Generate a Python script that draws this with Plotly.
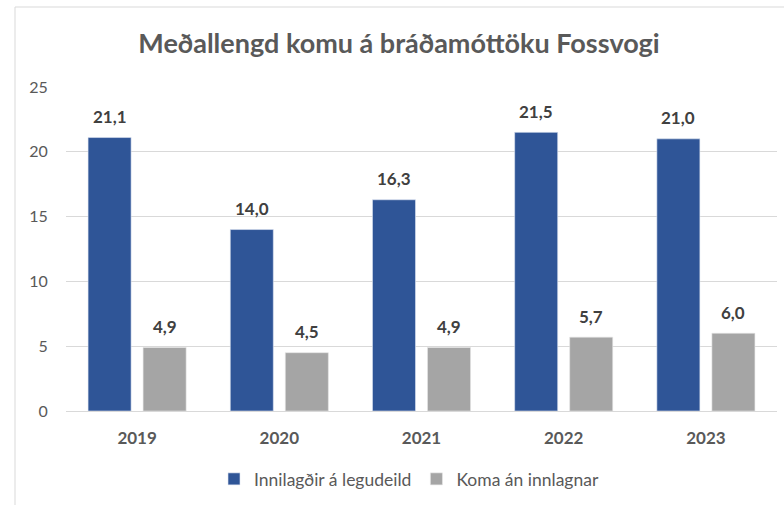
import plotly.graph_objects as go

years = ["2019", "2020", "2021", "2022", "2023"]
innilagdir = [21.1, 14.0, 16.3, 21.5, 21.0]
koma_an = [4.9, 4.5, 4.9, 5.7, 6.0]
series_names = ["Innilagðir á legudeild", "Koma án innlagnar"]
title_text = "Meðallengd komu á bráðamóttöku Fossvogi"
y_ticks = [0, 5, 10, 15, 20, 25]

FONT = "Lato"
BLUE = "#2F5597"
GRAY = "#A5A5A5"

fig = go.Figure()
fig.add_trace(go.Bar(x=years, y=innilagdir, name=series_names[0],
                     marker=dict(color=BLUE, line=dict(color="#dfe6f2", width=0.6))))
fig.add_trace(go.Bar(x=years, y=koma_an, name=series_names[1],
                     marker=dict(color=GRAY, line=dict(color="#e6e6e6", width=0.6))))

def fmt(v):
    return f"{v:.1f}".replace(".", ",")

annots = []
for vals, shift in ((innilagdir, -27.5), (koma_an, 27.5)):
    for i, v in enumerate(vals):
        # x given as the category index on the category axis
        annots.append(dict(x=i, y=v, xref="x", yref="y", text=fmt(v), showarrow=False,
                           xshift=shift, yshift=21, yanchor="middle",
                           font=dict(family=FONT, size=17, color="#404040", weight="bold")))

L, R, T, B = 66, 7, 87, 94
W, H = 784, 505
pw, ph = W - L - R, H - T - B

fig.update_layout(
    width=W, height=H,
    margin=dict(l=L, r=R, t=T, b=B),
    paper_bgcolor="white", plot_bgcolor="white",
    barmode="group", bargap=0.226, bargroupgap=0.218,
    title=dict(text=title_text, x=399 / W, xanchor="center", y=1 - 44 / H, yanchor="middle",
               font=dict(family=FONT, size=27, color="#595959", weight="bold")),
    font=dict(family=FONT, color="#595959"),
    showlegend=True,
    legend=dict(orientation="h", x=(409 - L) / pw, xanchor="center",
                y=(411 - 479) / ph, yanchor="middle",
                font=dict(family=FONT, size=17.5, color="#595959"), traceorder="normal"),
    annotations=annots,
    shapes=[dict(type="rect", xref="paper", yref="paper",
                 x0=(15 - L) / pw, x1=(W + 10 - L) / pw,
                 y0=-(H + 10 - (T + ph)) / ph, y1=1 + (T - 7) / ph,
                 line=dict(color="#D9D9D9", width=1), fillcolor="rgba(0,0,0,0)", layer="below")],
)
fig.update_xaxes(type="category", range=[-0.5, len(years) - 0.5], showline=True,
                 linecolor="#D9D9D9", linewidth=1,
                 ticks="outside", ticklen=12, tickcolor="rgba(0,0,0,0)",
                 tickfont=dict(family=FONT, size=17, color="#595959", weight="bold"))
fig.update_yaxes(range=[0, 25], tickvals=y_ticks, showgrid=True, gridcolor="#D9D9D9",
                 gridwidth=1, zeroline=False,
                 ticks="outside", ticklen=14, tickcolor="rgba(0,0,0,0)",
                 tickfont=dict(family=FONT, size=16, color="#595959"))

fig.write_html("out.html", config={"displayModeBar": False},
               post_script="document.body.style.margin='0';")
